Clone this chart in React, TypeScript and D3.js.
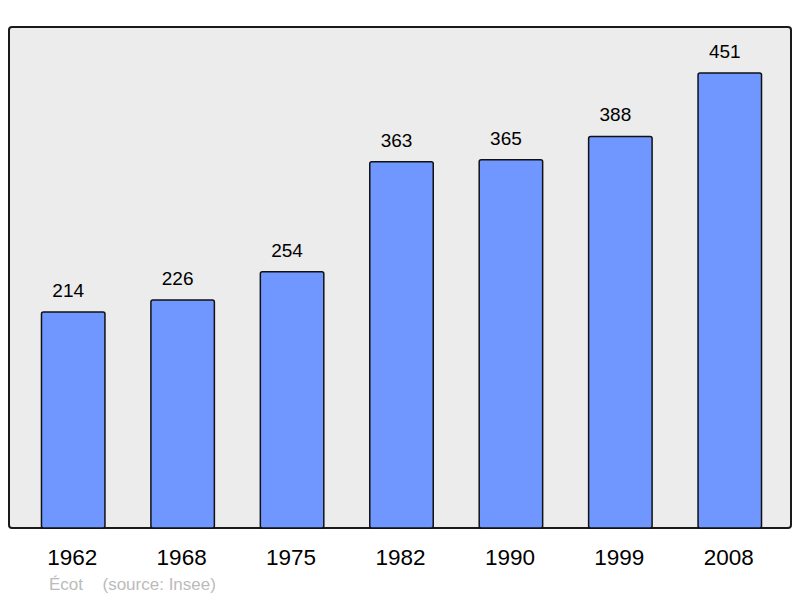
import React from "react";
import * as d3 from "d3";

const years = ["1962", "1968", "1975", "1982", "1990", "1999", "2008"];
const population = [214, 226, 254, 363, 365, 388, 451];
const footerName = "Écot";
const footerSource = "(source: Insee)";

const W = 800;
const H = 598;
const frame = { left: 9, top: 27, right: 791, bottom: 528 };

export default function App() {
  const x = d3
    .scaleBand<string>()
    .domain(years)
    .range([18.5, 784.5])
    .paddingInner(0.42)
    .paddingOuter(0.21);
  const y = d3.scaleLinear().domain([0, 496.5]).range([frame.bottom, frame.top]);

  return (
    <svg
      width={W}
      height={H}
      style={{ position: "absolute", left: 0, top: 0 }}
      fontFamily="'Liberation Sans', Arial, sans-serif"
    >
      <rect x={0} y={0} width={W} height={H} fill="#ffffff" />
      <rect
        x={frame.left}
        y={frame.top}
        width={frame.right - frame.left}
        height={frame.bottom - frame.top}
        rx={3}
        fill="#ececec"
        stroke="#1a1a1a"
        strokeWidth={2}
      />
      {years.map((yr, i) => {
        const v = population[i];
        const bx = x(yr)!;
        const bw = x.bandwidth();
        return (
          <g key={yr}>
            <rect
              x={bx}
              y={y(v)}
              width={bw}
              height={frame.bottom - y(v)}
              rx={2}
              fill="#7096ff"
              stroke="#111111"
              strokeWidth={1.5}
            />
            <text
              x={bx + bw / 2 - 5}
              y={y(v) - 15}
              textAnchor="middle"
              fontSize={19}
              fill="#000"
            >
              {v}
            </text>
            <text
              x={bx + bw / 2 - 1}
              y={565}
              textAnchor="middle"
              fontSize={22.5}
              fill="#000"
            >
              {yr}
            </text>
          </g>
        );
      })}
      <text x={49} y={590} fontSize={17} fill="#bbbbbb">
        {footerName}
      </text>
      <text x={102.5} y={590} fontSize={17} fill="#bbbbbb">
        {footerSource}
      </text>
    </svg>
  );
}
